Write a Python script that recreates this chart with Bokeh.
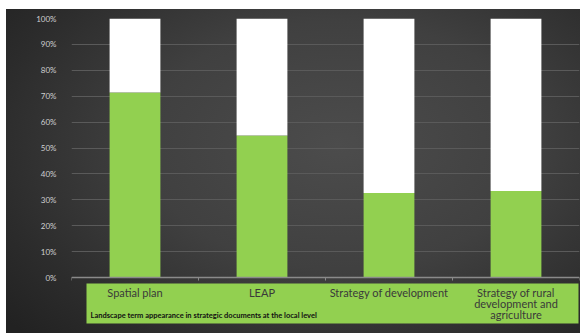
from bokeh.plotting import figure
from bokeh.models import Range1d, FixedTicker, Span, NumeralTickFormatter, ColumnDataSource
from bokeh.core.properties import value
from bokeh.embed import file_html
from bokeh.resources import INLINE

# ---- data ----
categories = ["Spatial plan", "LEAP", "Strategy of development",
              "Strategy of rural development and agriculture"]
category_labels = ["Spatial plan", "LEAP", "Strategy of development",
                   "Strategy of rural\ndevelopment and\nagriculture"]
term_present = [0.714, 0.548, 0.326, 0.334]
term_absent = [0.286, 0.452, 0.674, 0.666]
y_ticks = [0.0, 0.1, 0.2, 0.3, 0.4, 0.5, 0.6, 0.7, 0.8, 0.9, 1.0]
caption = "Landscape term appearance in strategic documents at the local level"

GREEN = "#92D050"
FONT = "Lato"

n = len(categories)
xs = [i + 0.5 for i in range(n)]
boundaries = list(range(n + 1))

# pixel scale: 100% -> 0% spans 259 px; frame extends 56 px below 0%
px = 1.0 / 259.0
y_bottom = -56 * px

p = figure(width=574, height=324, output_backend="svg", toolbar_location=None,
           x_range=Range1d(0, n), y_range=Range1d(y_bottom, 1.0),
           x_axis_location=None, tools="")
p.margin = (9, 0, 0, 6)
p.min_border_left = 65
p.min_border_right = 1
p.min_border_top = 9
p.min_border_bottom = 0
p.border_fill_color = None
p.background_fill_color = None
p.outline_line_color = None
p.styles = {"background": "radial-gradient(ellipse 75% 85% at 58% 42%, #4c4c4c 0%, #404040 45%, #2c2c2c 80%, #222222 100%)"}

# y axis
ya = p.yaxis[0]
ya.ticker = FixedTicker(ticks=y_ticks)
ya.formatter = NumeralTickFormatter(format="0%")
ya.axis_line_color = None
ya.major_tick_line_color = None
ya.minor_tick_line_color = None
ya.major_label_standoff = 9
ya.major_label_text_color = "#cfcfcf"
ya.major_label_text_font = FONT
ya.major_label_text_font_size = "8px"

p.xgrid.visible = False
p.ygrid.ticker = FixedTicker(ticks=y_ticks)
p.ygrid.grid_line_color = "#5a5a5a"
p.ygrid.grid_line_width = 1

# bars
src = ColumnDataSource(dict(x=xs, present=term_present, absent=term_absent))
p.vbar_stack(["present", "absent"], x="x", width=0.4, source=src,
             color=[GREEN, "#ffffff"], line_color=None)

# category label band
p.quad(left=[15 / 127.0], right=[n - 1 / 127.0], bottom=[-46 * px], top=[-6 * px],
       fill_color=GREEN, line_color=None)

# x axis line with ticks at category boundaries
p.add_layout(Span(location=0, dimension="width", line_color="#8a8a8a", line_width=1.5))
p.segment(x0=boundaries, x1=boundaries, y0=[0] * (n + 1), y1=[-3 * px] * (n + 1),
          line_color="#8a8a8a", line_width=1)

# category labels, one text item per line
lx, ly, lt = [], [], []
for xc, lab in zip(xs, category_labels):
    for j, line in enumerate(lab.split("\n")):
        lx.append(xc)
        ly.append(-(14.5 + 11.3 * j) * px)
        lt.append(line)
p.text(x=lx, y=ly, text=lt, text_align="center",
       text_baseline="middle", text_font=value(FONT), text_font_size="11px",
       text_color="#3a3a3a")

# caption
p.text(x=[19 / 127.0], y=[-38 * px], text=[caption], text_align="left",
       text_baseline="middle", text_font=value(FONT), text_font_size="7.5px",
       text_font_style="bold", text_color="#111111")

open("out.html", "w").write(file_html(p, INLINE))
